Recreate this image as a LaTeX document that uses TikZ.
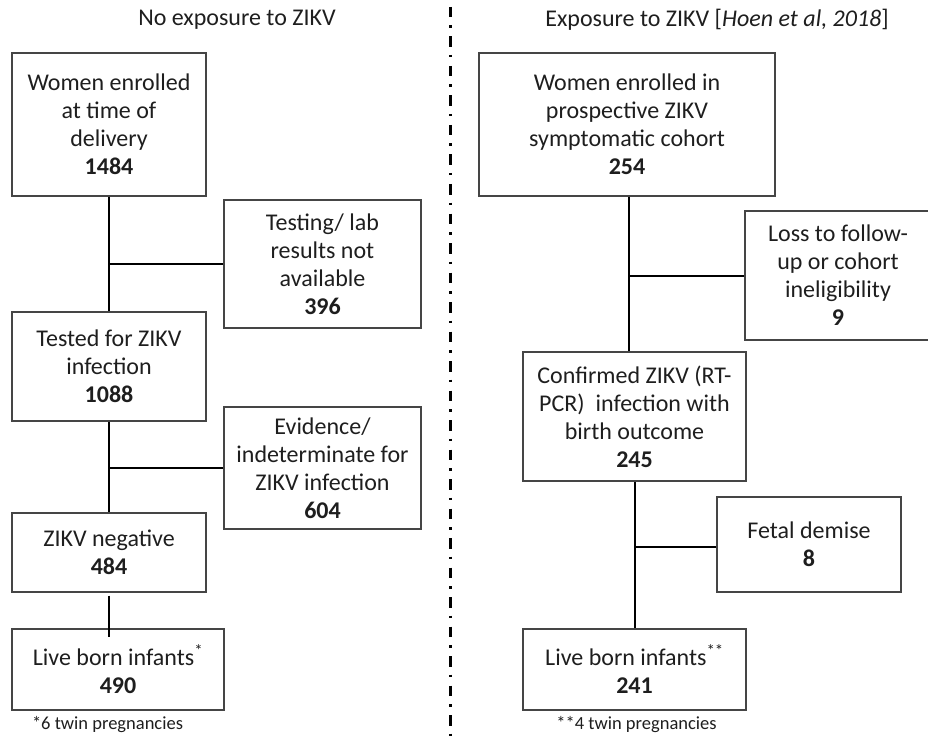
\documentclass[tikz,border=0pt]{standalone}
\usepackage{fontspec}
\setmainfont{Carlito}
\usepackage{tikz}
\definecolor{inkgray}{HTML}{1E1E1E}
\definecolor{framegray}{HTML}{454545}
\tikzset{
	box/.style={draw=framegray, line width=1.2pt, align=center, inner sep=0pt, text=inkgray,
		font=\fontsize{24}{28}\selectfont, text depth=-6pt},
	heading/.style={text=inkgray, font=\fontsize{24}{28}\selectfont},
	footnote/.style={text=inkgray, font=\fontsize{18.5}{22}\selectfont},
	link/.style={line width=2pt, black},
	divider/.style={line width=2.5pt, black, dash pattern=on 10.5pt off 8pt on 2.5pt off 8.5pt}
}

\begin{document}
\begin{tikzpicture}[x=1pt, y=-1pt]
	\useasboundingbox (0,0) rectangle (928,738);

	% no exposure
	\node[heading] (lt) at (237,20) {No exposure to ZIKV};
	\node[box, minimum width=194pt, minimum height=143pt] (l1) at (109,124.5)
		{Women enrolled\\at time of\\delivery\\\textbf{1484}};
	\node[box, minimum width=197pt, minimum height=128pt] (l2) at (322.5,264)
		{Testing/ lab\\results not\\available\\\textbf{396}};
	\node[box, minimum width=194pt, minimum height=109pt] (l3) at (109,366.5)
		{Tested for ZIKV\\infection\\\textbf{1088}};
	\node[box, minimum width=197pt, minimum height=122pt] (l4) at (322.5,468)
		{Evidence/\\indeterminate for\\ZIKV infection\\\textbf{604}};
	\node[box, minimum width=194pt, minimum height=79pt] (l5) at (109,552.5)
		{ZIKV negative\\\textbf{484}};
	\node[box, minimum width=212pt, minimum height=81pt] (l6) at (118,669.5)
		{Live born infants\textsuperscript{*}\\\textbf{490}};
	\node[footnote] (lf) at (107.5,725) {*6 twin pregnancies};

	% exposure
	\node[heading] (rt) at (717,20) {Exposure to ZIKV [\textit{Hoen et al, 2018}]};
	\node[box, minimum width=296pt, minimum height=143pt] (r1) at (627,124.5)
		{Women enrolled in\\prospective ZIKV\\symptomatic cohort\\\textbf{254}};
	\node[box, minimum width=186pt, minimum height=129pt] (r2) at (838,275.5)
		{Loss to follow-\\up or cohort\\ineligibility\\\textbf{9}};
	\node[box, minimum width=223pt, minimum height=129pt] (r3) at (634.5,416.5)
		{Confirmed ZIKV (RT-\\PCR)\ \ infection with\\birth outcome\\\textbf{245}};
	\node[box, minimum width=184pt, minimum height=95pt] (r4) at (809,544.5)
		{Fetal demise\\\textbf{8}};
	\node[box, minimum width=223pt, minimum height=81pt] (r5) at (634.5,669.5)
		{Live born infants\textsuperscript{**}\\\textbf{241}};
	\node[footnote] (rf) at (636.5,725) {**4 twin pregnancies};

	\coordinate (dtop) at (450.7,7);
	\coordinate (dbot) at (450.7,738);
	\draw[divider] (dtop) -- (dbot);

	\draw[link] (l1.south) -- (l1.south |- l3.north);
	\draw[link] (l2.west) -- (l2.west -| l1.south);
	\draw[link] (l3.south) -- (l3.south |- l5.north);
	\draw[link] (l4.west) -- (l4.west -| l3.south);
	\draw[link] ([yshift=-3pt]l5.south) -- ([yshift=-9pt]l5.south |- l6.north);

	\coordinate (r1s) at ([xshift=2pt]r1.south);
	\draw[link] (r1s) -- (r1s |- r3.north);
	\draw[link] (r2.west) -- (r2.west -| r1s);
	\draw[link] (r3.south) -- (r3.south |- r5.north);
	\draw[link] ([yshift=-2.5pt]r4.west) -- ([yshift=-2.5pt]r4.west -| r3.south);
\end{tikzpicture}
\end{document}
